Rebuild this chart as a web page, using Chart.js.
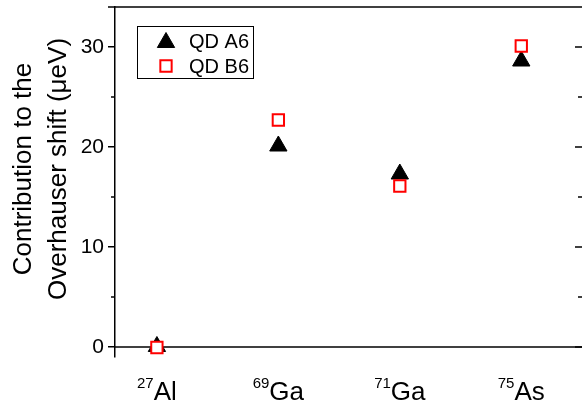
<!DOCTYPE html>
<html><head><meta charset="utf-8">
<script src="https://cdn.jsdelivr.net/npm/chart.js@4/dist/chart.umd.min.js"></script>
<style>html,body{margin:0;padding:0;background:#fff;overflow:hidden}#wrap{width:582px;height:407px;position:relative}</style>
</head><body><div id="wrap"><canvas id="c" width="582" height="407"></canvas></div>
<script>
const isotopeMass = ['27', '69', '71', '75'];
const isotopeSymbol = ['Al', 'Ga', 'Ga', 'As'];
const xPositions = [1, 2, 3, 4];
const qdA6 = [0.05, 20.1, 17.3, 28.6];
const qdB6 = [-0.05, 22.7, 16.1, 30.1];
const yMajorTicks = [0, 10, 20, 30];
const yMinorTicks = [5, 15, 25];
const seriesLabels = ['QD A6', 'QD B6'];
const yTitleLines = ['Contribution to the', 'Overhauser shift (\u03BCeV)'];

const FONT = "'Liberation Sans', Arial, Helvetica, sans-serif";

const triStyle = {pointStyle: 'triangle', radius: 10, borderWidth: 1, fill: '#000', stroke: '#000'};
const sqStyle = {pointStyle: 'rect', radius: 8, borderWidth: 2, fill: '#fff', stroke: '#ff0000'};

const decor = {
  id: 'decor',
  beforeDatasetsDraw(chart) {
    const ctx = chart.ctx, a = chart.chartArea, y = chart.scales.y;
    ctx.save();
    ctx.strokeStyle = '#000';
    ctx.lineWidth = 1.5;
    ctx.beginPath(); ctx.moveTo(108, a.top); ctx.lineTo(a.right, a.top); ctx.stroke();
    const y0 = y.getPixelForValue(0);
    ctx.beginPath(); ctx.moveTo(a.left, y0); ctx.lineTo(a.right, y0); ctx.stroke();
    yMinorTicks.forEach(v => {
      const p = y.getPixelForValue(v);
      ctx.beginPath(); ctx.moveTo(a.left - 4, p); ctx.lineTo(a.left, p); ctx.stroke();
      ctx.beginPath(); ctx.moveTo(a.right - 4, p); ctx.lineTo(a.right, p); ctx.stroke();
    });
    yMajorTicks.forEach(v => {
      const p = y.getPixelForValue(v);
      ctx.beginPath(); ctx.moveTo(a.right - 7, p); ctx.lineTo(a.right, p); ctx.stroke();
    });
    ctx.restore();
  },
  afterDraw(chart) {
    const ctx = chart.ctx, x = chart.scales.x;
    ctx.save();
    ctx.fillStyle = '#000';
    ctx.textBaseline = 'alphabetic';
    ctx.textAlign = 'left';
    xPositions.forEach((v, i) => {
      const px = x.getPixelForValue(v);
      ctx.font = '15px ' + FONT;
      const ws = ctx.measureText(isotopeMass[i]).width;
      ctx.font = '26px ' + FONT;
      const wm = ctx.measureText(isotopeSymbol[i]).width;
      const start = px - (ws + wm) / 2;
      ctx.font = '15px ' + FONT;
      ctx.fillText(isotopeMass[i], start, 388);
      ctx.font = '26px ' + FONT;
      ctx.fillText(isotopeSymbol[i], start + ws, 400);
    });
    ctx.font = '26px ' + FONT;
    ctx.textAlign = 'center';
    [[31, yTitleLines[0]], [66, yTitleLines[1]]].forEach(([bx, t]) => {
      ctx.save(); ctx.translate(bx, 169); ctx.rotate(-Math.PI / 2); ctx.fillText(t, 0, 0); ctx.restore();
    });
    ctx.lineWidth = 1;
    ctx.strokeStyle = '#000';
    ctx.strokeRect(137.5, 26.5, 116, 52);
    const entries = [[triStyle, 42.5, 47.5], [sqStyle, 66, 72.5]];
    entries.forEach(([st, my, ty], i) => {
      ctx.fillStyle = st.fill; ctx.strokeStyle = st.stroke; ctx.lineWidth = st.borderWidth;
      Chart.helpers.drawPoint(ctx, {pointStyle: st.pointStyle, radius: st.radius, rotation: 0, borderWidth: st.borderWidth}, 166, my);
      ctx.fillStyle = '#000';
      ctx.font = '20px ' + FONT;
      ctx.textAlign = 'left';
      ctx.fillText(seriesLabels[i], 189, ty);
    });
    ctx.restore();
  }
};

new Chart(document.getElementById('c'), {
  type: 'scatter',
  data: {
    datasets: [
      {label: seriesLabels[0], data: xPositions.map((v, i) => ({x: v, y: qdA6[i]})),
       pointStyle: triStyle.pointStyle, pointRadius: triStyle.radius, pointBorderWidth: triStyle.borderWidth,
       backgroundColor: triStyle.fill, borderColor: triStyle.stroke, order: 1, clip: false},
      {label: seriesLabels[1], data: xPositions.map((v, i) => ({x: v, y: qdB6[i]})),
       pointStyle: sqStyle.pointStyle, pointRadius: sqStyle.radius, pointBorderWidth: sqStyle.borderWidth,
       backgroundColor: sqStyle.fill, borderColor: sqStyle.stroke, order: 0, clip: false}
    ]
  },
  options: {
    responsive: false, animation: false, devicePixelRatio: 1,
    layout: {autoPadding: false, padding: {top: 7, left: 0, right: 0, bottom: 0}},
    plugins: {legend: {display: false}, tooltip: {enabled: false}},
    elements: {point: {hoverRadius: 10}},
    scales: {
      x: {
        type: 'linear', min: 0.655, max: 4.5,
        afterBuildTicks: s => { s.ticks = xPositions.map(v => ({value: v})); },
        ticks: {display: false},
        grid: {display: false}, border: {display: false},
        afterFit: s => { s.height = 50; s.paddingLeft = 0; s.paddingRight = 0; }
      },
      y: {
        min: -1, max: 34,
        afterBuildTicks: s => { s.ticks = yMajorTicks.map(v => ({value: v})); },
        ticks: {color: '#000', font: {size: 21, family: FONT}, padding: 4},
        grid: {display: true, drawOnChartArea: false, drawTicks: true, tickLength: 7, color: '#000', lineWidth: 1.5},
        border: {display: true, color: '#000', width: 1.5},
        afterFit: s => { s.width = 115; s.paddingTop = 0; s.paddingBottom = 0; }
      }
    }
  },
  plugins: [decor]
});
</script></body></html>
